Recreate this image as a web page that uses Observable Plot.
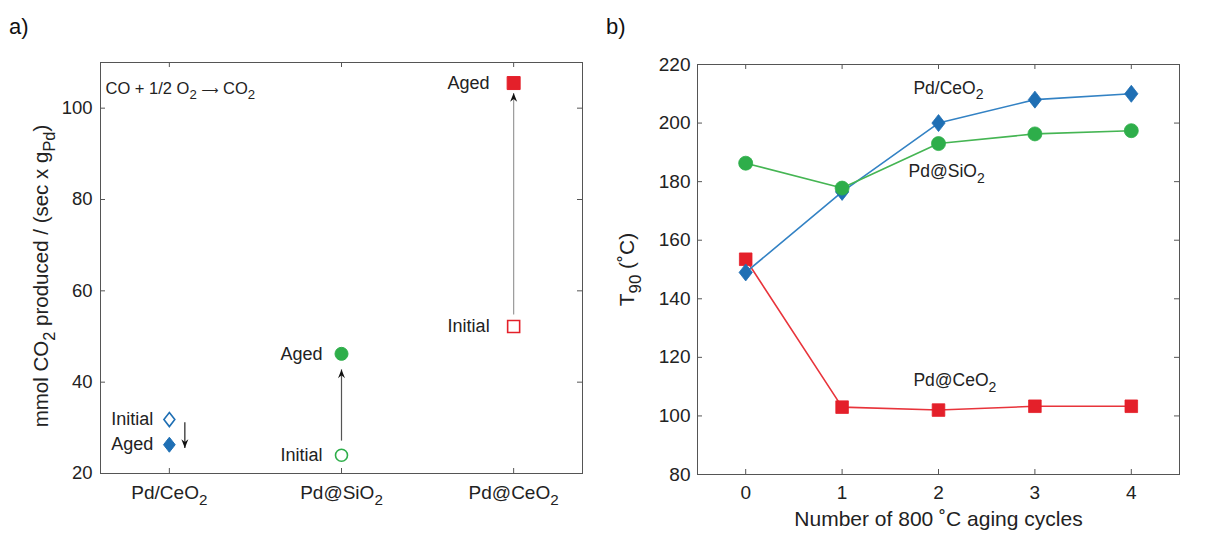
<!DOCTYPE html>
<html><head><meta charset="utf-8">
<script src="https://cdn.jsdelivr.net/npm/d3@7"></script>
<script src="https://cdn.jsdelivr.net/npm/@observablehq/plot@0.6"></script>
<style>
body{margin:0;background:#fff;font-family:"Liberation Sans",Arial,sans-serif;}
#wrap{position:relative;width:1231px;height:533px;display:flex;}
.plabel{position:absolute;top:14px;font-size:22px;color:#111;}
</style></head><body>
<div id="wrap">
  <div class="plabel" style="left:9px">a)</div>
  <div class="plabel" style="left:606px">b)</div>
  <div id="left"></div><div id="right"></div>
</div>
<script>
// ---------- data: panel a ----------
const catalysts   = ["Pd/CeO_2", "Pd@SiO_2", "Pd@CeO_2"];
const initialRate = [31.8, 24.0, 52.2];
const agedRate    = [26.3, 46.2, 105.5];
const arrowFrom   = [31.2, 27.2, 54.8];
const arrowTo     = [25.6, 42.8, 103.3];
const arrowPos    = [1.09, 2, 3];
const rateTicks   = [20, 40, 60, 80, 100];
const reaction    = "CO + 1/2 O_2 \u27F6 CO_2";
const rateLabel   = "mmol CO_2 produced / (sec x g_{Pd})";

// ---------- data: panel b ----------
const cycles      = [0, 1, 2, 3, 4];
const t90PdCeO2   = [149, 176.5, 200, 208, 210];
const t90PdSiO2   = [186.3, 177.8, 193, 196.3, 197.4];
const t90PdAtCeO2 = [153.5, 103, 102, 103.3, 103.3];
const t90Ticks    = [80, 100, 120, 140, 160, 180, 200, 220];
const seriesNames = ["Pd/CeO_2", "Pd@SiO_2", "Pd@CeO_2"];
const seriesLabelX = [1.74, 1.69, 1.74];
const seriesLabelY = [212, 183.5, 112];
const t90Label    = "T_{90} (\u02DAC)";
const cycleLabel  = "Number of 800 \u02DAC aging cycles";

// ---------- styles ----------
const colors = ["#1f6fb4", "#2eae4a", "#e4202a"];
const lineColors = ["#3382c4", "#45b553", "#e8343b"];
const FONT = "Liberation Sans, Arial, sans-serif";
const diamondSym = {draw(ctx, size){const r=Math.sqrt(size/Math.PI), w=r*0.78; ctx.moveTo(0,-r); ctx.lineTo(w,0); ctx.lineTo(0,r); ctx.lineTo(-w,0); ctx.closePath();}};
const squareSym  = {draw(ctx, size){const r=Math.sqrt(size/Math.PI); ctx.moveTo(-r,-r); ctx.lineTo(r,-r); ctx.lineTo(r,r); ctx.lineTo(-r,r); ctx.closePath();}};
const headSym    = {draw(ctx, size){const r=Math.sqrt(size/Math.PI); ctx.moveTo(0,0); ctx.lineTo(-0.5*r,1.25*r); ctx.lineTo(0,0.85*r); ctx.lineTo(0.5*r,1.25*r); ctx.closePath();}};
const symbols = [diamondSym, "circle", squareSym];
const symR = [7.5, 6.5, 6.5];
const labelGap = [16, 19, 24];

function rebuild(el){
  const s = el.textContent; el.textContent = "";
  const ns = "http://www.w3.org/2000/svg";
  const re = /_\{([^}]*)\}|_(.)|(\u27F6)/g;
  let last = 0, m, up = false;
  const add = (txt, kind) => {
    const ts = document.createElementNS(ns, "tspan"); ts.textContent = txt;
    if (kind === "sub") { ts.setAttribute("font-size", "0.8em"); ts.setAttribute("dy", "0.42em"); }
    else if (up) ts.setAttribute("dy", "-0.336em");
    if (kind === "arrow") { ts.setAttribute("font-family", "DejaVu Sans"); ts.setAttribute("font-size", "0.72em"); }
    el.appendChild(ts); up = kind === "sub";
  };
  while ((m = re.exec(s))) {
    if (m.index > last) add(s.slice(last, m.index), "text");
    if (m[3]) add(m[3], "arrow"); else add(m[1] ?? m[2], "sub");
    last = re.lastIndex;
  }
  if (last < s.length) add(s.slice(last), "text");
}
function subscriptify(svg){
  svg.querySelectorAll("text").forEach(t => {
    if (t.children.length) { t.querySelectorAll("tspan").forEach(ts => { if (!ts.children.length && /_|\u27F6/.test(ts.textContent)) rebuild(ts); }); }
    else if (/_|\u27F6/.test(t.textContent)) rebuild(t);
  });
}

// ---------- panel a ----------
{
  const W = 600, H = 533, mL = 100, mR = 18, mT = 62, mB = 60;
  const pw = W - mL - mR, ph = H - mT - mB;
  const marks = [
    Plot.frame({stroke: "#555"}),
    Plot.tickY(rateTicks, {y: d => d, insetRight: pw - 5, stroke: "#555"}),
    Plot.tickY(rateTicks, {y: d => d, insetLeft: pw - 5, stroke: "#555"}),
    Plot.tickX([1, 2, 3], {x: d => d, insetTop: ph - 5, stroke: "#555"}),
    Plot.tickX([1, 2, 3], {x: d => d, insetBottom: ph - 5, stroke: "#555"}),
    Plot.axisY({ticks: rateTicks, tickSize: 0, tickPadding: 8, fontSize: 18.5, label: null}),
    Plot.axisX({ticks: [1, 2, 3], tickFormat: d => catalysts[d - 1], tickSize: 0, tickPadding: 12, fontSize: 19, label: null}),
    Plot.text([rateLabel], {text: d => d, frameAnchor: "left", textAnchor: "middle", lineAnchor: "middle", rotate: -90, dx: -59, dy: 8, fontSize: 20.5}),
    Plot.text([reaction], {text: d => d, frameAnchor: "top-left", textAnchor: "start", lineAnchor: "middle", dx: 5, dy: 26, fontSize: 16.5})
  ];
  catalysts.forEach((c, i) => {
    const shaft = ["#222", "#555", "#9a9a9a"][i];
    marks.push(
      Plot.link([i], {x1: () => arrowPos[i], x2: () => arrowPos[i], y1: () => arrowFrom[i], y2: () => arrowTo[i], stroke: shaft, strokeWidth: 1.2}),
      Plot.dot([i], {x: () => arrowPos[i], y: () => arrowTo[i], symbol: headSym, r: 7, fill: "#111", stroke: "none", rotate: arrowTo[i] < arrowFrom[i] ? 180 : 0}),
      Plot.dot([i], {x: () => i + 1, y: () => initialRate[i], symbol: symbols[i], r: symR[i] - 0.5, fill: "white", stroke: colors[i], strokeWidth: 1.6}),
      Plot.dot([i], {x: () => i + 1, y: () => agedRate[i], symbol: symbols[i], r: symR[i], fill: colors[i], stroke: colors[i], strokeWidth: 1}),
      Plot.text([i], {x: () => i + 1, y: () => initialRate[i], text: () => "Initial", textAnchor: "end", dx: -labelGap[i], fontSize: 18}),
      Plot.text([i], {x: () => i + 1, y: () => agedRate[i], text: () => "Aged", textAnchor: "end", dx: -labelGap[i], fontSize: 18})
    );
  });
  const svg = Plot.plot({
    width: W, height: H, marginLeft: mL, marginRight: mR, marginTop: mT, marginBottom: mB,
    x: {domain: [0.6, 3.4]}, y: {domain: [20, 110]},
    style: {fontFamily: FONT, color: "#222", background: "white", overflow: "visible"},
    marks
  });
  subscriptify(svg);
  document.getElementById("left").appendChild(svg);
}

// ---------- panel b ----------
{
  const W = 631, H = 533, mL = 97, mR = 52, mT = 64, mB = 59;
  const pw = W - mL - mR, ph = H - mT - mB;
  const series = [t90PdCeO2, t90PdSiO2, t90PdAtCeO2];
  const marks = [
    Plot.frame({stroke: "#555"}),
    Plot.tickY(t90Ticks, {y: d => d, insetRight: pw - 5, stroke: "#555"}),
    Plot.tickY(t90Ticks, {y: d => d, insetLeft: pw - 5, stroke: "#555"}),
    Plot.tickX(cycles, {x: d => d, insetTop: ph - 5, stroke: "#555"}),
    Plot.tickX(cycles, {x: d => d, insetBottom: ph - 5, stroke: "#555"}),
    Plot.axisY({ticks: t90Ticks, tickSize: 0, tickPadding: 7, fontSize: 19, label: null}),
    Plot.axisX({ticks: cycles, tickFormat: d => String(d), tickSize: 0, tickPadding: 11, fontSize: 19, label: null}),
    Plot.text([t90Label], {text: d => d, frameAnchor: "left", textAnchor: "middle", lineAnchor: "middle", rotate: -90, dx: -70, fontSize: 21}),
    Plot.text([cycleLabel], {text: d => d, frameAnchor: "bottom", textAnchor: "middle", lineAnchor: "middle", dy: 45, fontSize: 21})
  ];
  [2, 0, 1].forEach(i => {
    const ys = series[i];
    marks.push(
      Plot.line(cycles, {x: d => d, y: (d, j) => ys[j], stroke: lineColors[i], strokeWidth: 1.6}),
      Plot.dot(cycles, {x: d => d, y: (d, j) => ys[j], symbol: symbols[i], r: i === 0 ? 8.5 : (i === 2 ? 6.3 : 7), fill: colors[i], stroke: colors[i], strokeWidth: 0.8})
    );
  });
  seriesNames.forEach((n, i) => {
    marks.push(Plot.text([i], {x: () => seriesLabelX[i], y: () => seriesLabelY[i], text: () => n, textAnchor: "start", fontSize: 17.5}));
  });
  const svg = Plot.plot({
    width: W, height: H, marginLeft: mL, marginRight: mR, marginTop: mT, marginBottom: mB,
    x: {domain: [-0.5, 4.5]}, y: {domain: [80, 220]},
    style: {fontFamily: FONT, color: "#222", background: "white", overflow: "visible"},
    marks
  });
  subscriptify(svg);
  document.getElementById("right").appendChild(svg);
}
</script>
</body></html>
